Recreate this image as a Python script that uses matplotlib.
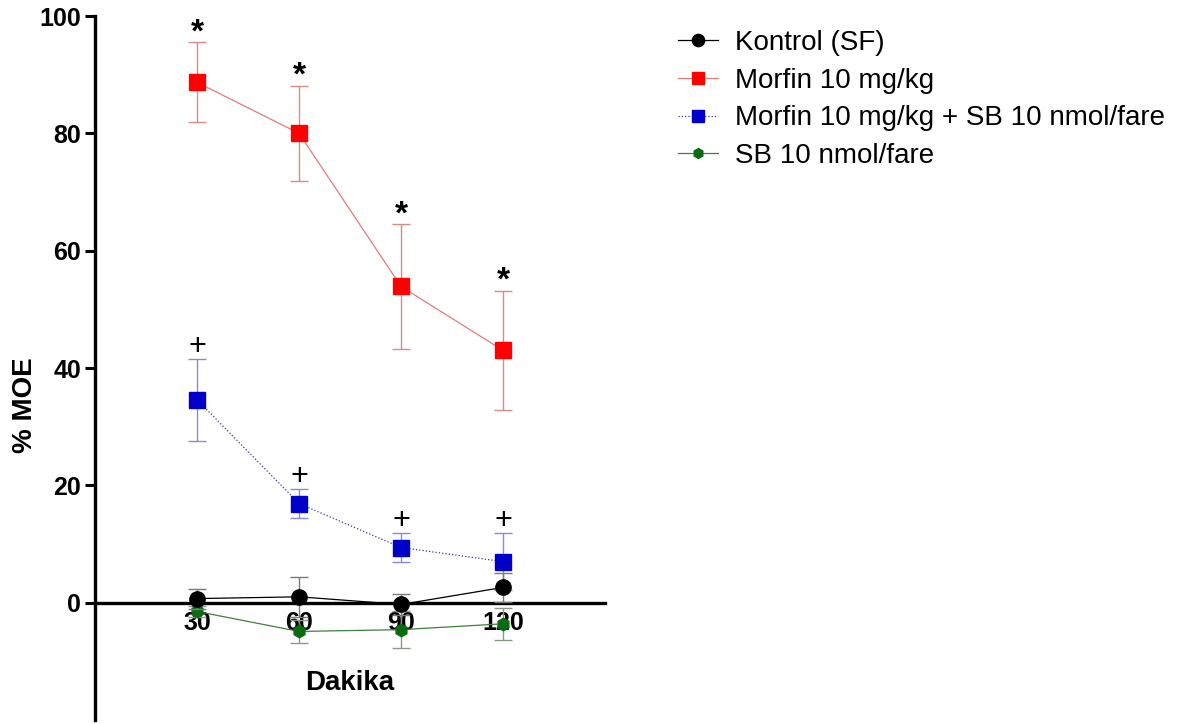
import matplotlib.pyplot as plt
from matplotlib.lines import Line2D
import numpy as np

plt.rcParams['font.family'] = ['Liberation Sans', 'DejaVu Sans']

dakika = [30, 60, 90, 120]

kontrol = [0.7, 1.0, -0.3, 2.6]
kontrol_sem = [1.7, 3.4, 1.8, 2.5]

morfin = [88.7, 80.0, 53.9, 43.0]
morfin_sem = [6.8, 8.1, 10.6, 10.2]

morfin_sb = [34.6, 16.9, 9.4, 7.0]
morfin_sb_sem = [7.0, 2.5, 2.5, 4.8]

sb = [-1.5, -4.9, -4.6, -3.6]
sb_sem = [1.0, 1.9, 3.1, 2.7]

fig = plt.figure(figsize=(11.79, 7.24), dpi=100)
ax = fig.add_axes([0.0806, 0.0055, 0.4326, 0.9724])

cap = 6.5
# name, values, sem, line colour, line style, marker, size, marker colour, error colour
groups = [
    ('Kontrol (SF)', kontrol, kontrol_sem, 'black', '-', 'o', 11, 'black', '#7a7a7a', 4),
    ('Morfin 10 mg/kg', morfin, morfin_sem, '#e07c7c', '-', 's', 11, '#ff0000', '#d98a8a', 3),
    ('Morfin 10 mg/kg + SB 10 nmol/fare', morfin_sb, morfin_sb_sem, '#3a3a9a', ':', 's', 11,
     '#0000c8', '#8a8ad6', 3),
    ('SB 10 nmol/fare', sb, sb_sem, '#3f7f3f', '-', 'h', 9, '#0b6b12', '#8a9a8a', 3),
]

handles = []
for name, vals, sem, lc, ls, mk, ms, mc, ec, z in groups:
    ax.errorbar(dakika, vals, yerr=sem, color=lc, lw=0.9, ls=ls,
                marker=mk, ms=ms, mfc=mc, mec=mc, ecolor=ec,
                elinewidth=1, capsize=cap, capthick=1, zorder=z)
    handles.append(Line2D([], [], color=lc, lw=0.9, ls=ls, marker=mk,
                          ms=ms * 0.8, mfc=mc, mec=mc, label=name))

# significance marks over the error bars
for x, m, e in zip(dakika, morfin, morfin_sem):
    ax.text(x, m + e - 1.0, '*', ha='center', va='bottom', fontsize=24,
            fontweight='bold', color='black')
for x, m, e in zip(dakika, morfin_sb, morfin_sb_sem):
    ax.text(x, m + e - 0.5, '+', ha='center', va='bottom', fontsize=22, color='black')

ax.set_xlim(0, 150)
ax.set_ylim(-20, 100)
ax.set_yticks([0, 20, 40, 60, 80, 100])
ax.set_xticks(dakika)

ax.spines['top'].set_visible(False)
ax.spines['right'].set_visible(False)
ax.spines['bottom'].set_position(('data', 0))
ax.spines['left'].set_linewidth(2.4)
ax.spines['bottom'].set_linewidth(2.4)

ax.tick_params(axis='y', length=7, width=2.2, labelsize=18, pad=3)
ax.tick_params(axis='x', length=0, labelsize=18, pad=6)
for lbl in ax.get_xticklabels() + ax.get_yticklabels():
    lbl.set_fontweight('bold')

ax.set_xlabel('Dakika', fontsize=20, fontweight='bold', va='center')
ax.xaxis.set_label_coords(0.5, 0.0526)
ax.set_ylabel('% MOE', fontsize=20, fontweight='bold', va='center')
ax.yaxis.set_label_coords(-0.137, 0.447)

fig.legend(handles=handles, loc='upper left', bbox_to_anchor=(0.5535, 0.993), frameon=False,
           fontsize=20, handlelength=1.45, handletextpad=0.6, labelspacing=0.42)

fig.savefig('out.png', dpi=100)
